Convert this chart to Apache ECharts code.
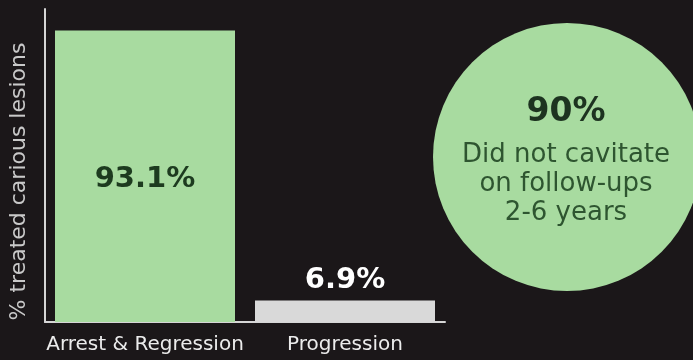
<!DOCTYPE html>
<html>
<head>
<meta charset="utf-8">
<script src="https://cdn.jsdelivr.net/npm/echarts@6/dist/echarts.min.js"></script>
<style>html,body{margin:0;padding:0;background:#1b1719;}#c{width:693px;height:360px;}</style>
</head>
<body>
<div id="c"></div>
<script>
const categories = ['Arrest & Regression', 'Progression'];
const values = [93.1, 6.9];
const barColors = ['#a8dba0', '#d9d9d9'];
const yAxisName = '% treated carious lesions';
const circleValue = '90%';
const circleLines = ['Did not cavitate', 'on follow-ups', '2-6 years'];

const FONT = '"DejaVu Sans", sans-serif';
const chart = echarts.init(document.getElementById('c'));
chart.setOption({
  backgroundColor: '#1b1719',
  animation: false,
  grid: { left: 45, right: 248, top: 9, bottom: 38, outerBoundsMode: 'none', containLabel: false },
  xAxis: {
    type: 'category',
    data: categories,
    axisLine: { lineStyle: { color: '#d6d6d6', width: 2 } },
    axisTick: { show: false },
    axisLabel: { interval: 0, color: '#ececec', fontSize: 20, fontFamily: FONT, margin: 13 }
  },
  yAxis: {
    type: 'value',
    min: 0, max: 100,
    name: yAxisName,
    nameLocation: 'middle',
    nameGap: 15,
    nameTextStyle: { color: '#c9c9c9', fontSize: 22, fontFamily: FONT, padding: [0, 32, 0, 0] },
    axisLine: { show: true, lineStyle: { color: '#d6d6d6', width: 2 } },
    axisTick: { show: false },
    axisLabel: { show: false },
    splitLine: { show: false }
  },
  series: [{
    type: 'bar',
    barCategoryGap: '10%',
    data: values.map((v, i) => ({
      value: v,
      itemStyle: { color: barColors[i] },
      label: i === 0
        ? { show: true, position: 'inside', offset: [0, 3], formatter: '{c}%', color: '#1d3b1f', fontSize: 29, fontWeight: 'bold', fontFamily: FONT }
        : { show: true, position: 'top', distance: 5, formatter: '{c}%', color: '#ffffff', fontSize: 29, fontWeight: 'bold', fontFamily: FONT }
    }))
  }],
  graphic: [
    { type: 'circle', shape: { cx: 567, cy: 157, r: 134 }, style: { fill: '#a8dba0' } },
    { type: 'text', x: 566, y: 112, style: { text: circleValue, fill: '#1d3320', font: 'bold 33px ' + FONT, align: 'center', verticalAlign: 'middle' } },
    { type: 'text', x: 566, y: 184, style: { text: circleLines.join('\n'), fill: '#2e5530', font: '26px ' + FONT, lineHeight: 29, align: 'center', verticalAlign: 'middle' } }
  ]
});
</script>
</body>
</html>
